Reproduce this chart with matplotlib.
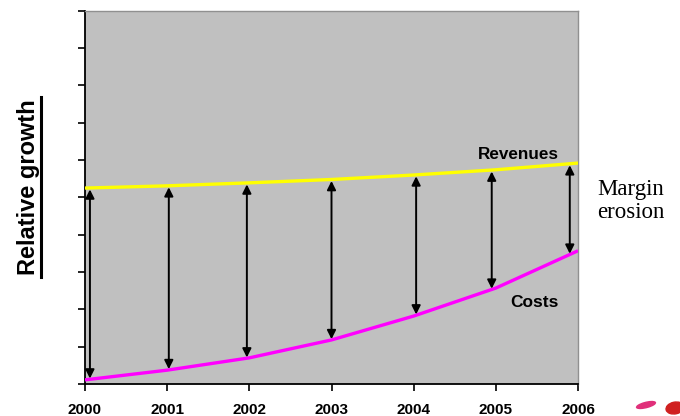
import matplotlib.pyplot as plt
import numpy as np
from matplotlib.patches import Ellipse

years = [2000, 2001, 2002, 2003, 2004, 2005, 2006]
revenues = [5.25, 5.31, 5.39, 5.48, 5.60, 5.74, 5.92]
costs = [0.11, 0.37, 0.70, 1.18, 1.82, 2.57, 3.57]

# where the double arrows sit
arrow_x = [2000.06, 2001.02, 2001.97, 2003.0, 2004.03, 2004.95, 2005.9]

fig = plt.figure(figsize=(6.8, 4.16), dpi=100)
ax = fig.add_axes([0.125, 0.077, 0.725, 0.897])
ax.set_facecolor('#C0C0C0')

ax.plot(years, revenues, color='#FFFF00', lw=2.4, solid_capstyle='butt', zorder=3)
ax.plot(years, costs, color='#FF00FF', lw=2.4, solid_capstyle='butt', zorder=3)

for x in arrow_x:
    top = np.interp(x, years, revenues) - 0.04
    bot = np.interp(x, years, costs) + 0.02
    ax.annotate('', xy=(x, bot), xytext=(x, top),
                arrowprops=dict(arrowstyle='<|-|>', color='black', lw=1.4,
                                mutation_scale=13, shrinkA=0, shrinkB=0),
                zorder=4)

ax.set_xlim(2000, 2006)
ax.set_ylim(0, 10)
ax.set_xticks(years)
ax.set_xticklabels([str(y) for y in years], fontfamily='Liberation Sans',
                   fontweight='bold', fontsize=11)
ax.set_yticks(range(11))
ax.set_yticklabels([])
ax.tick_params(axis='both', direction='out', length=5, width=1.2, color='black')
ax.tick_params(axis='x', pad=9)

for s in ['left', 'bottom']:
    ax.spines[s].set_color('black')
    ax.spines[s].set_linewidth(1.3)
for s in ['top', 'right']:
    ax.spines[s].set_color('#909090')
    ax.spines[s].set_linewidth(1.0)

ax.text(2005.27, 6.15, 'Revenues', fontfamily='Liberation Sans', fontweight='bold',
        fontsize=12.3, ha='center', va='center')
ax.text(2005.47, 2.17, 'Costs', fontfamily='Liberation Sans', fontweight='bold',
        fontsize=12.5, ha='center', va='center')

fig.text(597 / 680, 1 - 201 / 416, 'Margin\nerosion', fontfamily='Liberation Serif',
         fontsize=16.5, ha='left', va='center', linespacing=1.15)

fig.text(29 / 680, 1 - 187 / 416, 'Relative growth', fontfamily='Liberation Sans',
         fontweight='bold', fontsize=17, rotation=90, ha='center', va='center')
fig.add_artist(plt.Line2D([40.5 / 680, 40.5 / 680], [1 - 97 / 416, 1 - 277 / 416],
                          color='black', lw=2.2, transform=fig.transFigure))

# bits of the logo in the corner
fig.add_artist(Ellipse((646 / 680, 1 - 405 / 416), 0.03, 0.012, angle=25,
                       color='#E0307A', transform=fig.transFigure))
fig.add_artist(Ellipse((675 / 680, 1 - 408 / 416), 0.025, 0.03, angle=-30,
                       color='#D02020', transform=fig.transFigure))

fig.savefig('out.png', dpi=100)
